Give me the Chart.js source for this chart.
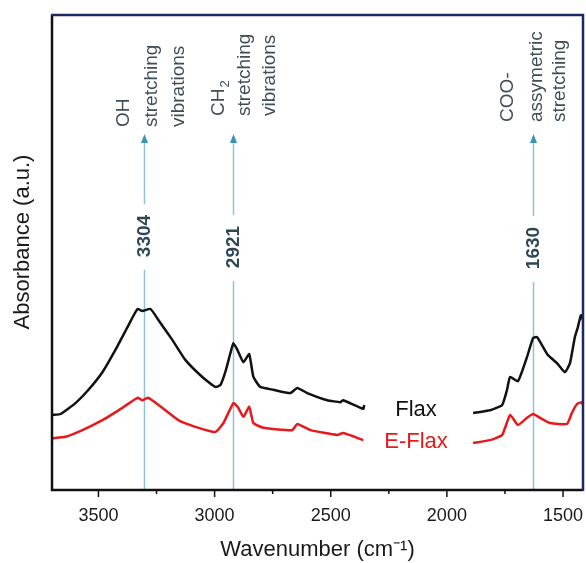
<!DOCTYPE html>
<html><head><meta charset="utf-8">
<script src="https://cdn.jsdelivr.net/npm/chart.js@4.4.0/dist/chart.umd.min.js"></script>
<style>html,body{margin:0;padding:0;background:#fff}#wrap{width:586px;height:563px}</style>
</head><body><div id="wrap"><canvas id="c" width="586" height="563"></canvas></div>
<script>
// ---- data ----
const flaxWavenumber = [3698,3663,3599,3543,3483,3427,3375,3332,3311,3276,3242,3182,3126,3053,2997,2975,2954,2932,2919,2902,2876,2851,2833,2803,2747,2674,2644,2601,2515,2459,2446,2360,2356,2100,1887,1814,1762,1741,1728,1694,1655,1629,1612,1565,1526,1492,1470,1449,1436,1423,1414];
const flaxAbsorbance = [15.8,16.0,18.3,21.1,24.8,29.5,34.3,38.1,37.7,38.1,35.8,31.6,27.4,23.8,21.7,22.1,24.8,28.8,30.9,29.5,26.9,28.6,23.8,21.7,21.1,20.4,21.5,20.4,18.9,18.5,18.9,17.1,17.9,null,16.2,16.8,17.9,21.1,23.8,22.9,28.0,32.0,32.2,28.4,26.7,24.8,26.7,32.2,34.3,36.8,35.8];
const eflaxWavenumber = [3698,3642,3569,3483,3397,3332,3311,3285,3225,3156,3083,2997,2962,2919,2898,2876,2851,2833,2790,2666,2644,2588,2472,2446,2360,2100,1887,1814,1762,1728,1694,1655,1629,1599,1556,1483,1462,1440,1419,1414];
const eflaxAbsorbance = [10.9,11.2,12.6,14.7,17.3,19.4,18.9,19.4,17.3,14.7,13.3,12.2,14.1,18.3,17.3,15.4,17.5,14.1,13.1,12.6,13.9,12.6,11.6,12.0,10.5,null,9.9,10.5,11.6,15.8,13.7,15.2,16.0,15.2,14.1,13.9,16.2,18.1,18.5,17.9];
const seriesNames = ['Flax', 'E-Flax'];
const xTickValues = [3500, 3000, 2500, 2000, 1500];
const xMinorTickValues = [3250, 2750, 2250, 1750];
const peakPositions = [3304, 2921, 1630];
const peakLabels = ['3304', '2921', '1630'];
const peakDescriptions = [['OH', 'stretching', 'vibrations'], ['CH|2', 'stretching', 'vibrations'], ['COO-', 'assymetric', 'stretching']];
const yAxisTitle = 'Absorbance (a.u.)';

const FONT = '"Liberation Sans", Arial, Helvetica, sans-serif';

const decor = {
  id: 'ftirDecor',
  beforeDatasetsDraw(chart) {
    const {ctx, chartArea: a, scales: {x}} = chart;
    ctx.save();
    peakPositions.forEach(p => {
      const px = Math.round(x.getPixelForValue(p)) + 0.5;
      ctx.strokeStyle = '#8ec4d5';
      ctx.lineWidth = 1.5;
      ctx.beginPath(); ctx.moveTo(px, a.bottom); ctx.lineTo(px, a.top + 127); ctx.stroke();
      ctx.fillStyle = '#3a93b6';
      ctx.beginPath(); ctx.moveTo(px, a.top + 119); ctx.lineTo(px - 3.5, a.top + 128); ctx.lineTo(px + 3.5, a.top + 128); ctx.closePath(); ctx.fill();
    });
    ctx.restore();
  },
  afterDatasetsDraw(chart) {
    const {ctx, chartArea: a, scales: {x}} = chart;
    ctx.save();
    const numCenters = [236, 247, 248];
    const descLayout = [{bottom: 127, cols: [-20, 8, 35]}, {bottom: 116, cols: [-14, 12, 37]}, {bottom: 122, cols: [-25, 4, 27]}];
    peakPositions.forEach((p, i) => {
      const px = x.getPixelForValue(p);
      const cy = numCenters[i];
      ctx.fillStyle = '#ffffff';
      ctx.fillRect(px - 13, cy - 32, 26, 66);
      ctx.save();
      ctx.translate(px, cy);
      ctx.rotate(-Math.PI / 2);
      ctx.fillStyle = '#2e4757';
      ctx.font = 'bold 19px ' + FONT;
      ctx.textAlign = 'center'; ctx.textBaseline = 'middle';
      ctx.fillText(peakLabels[i], 0, 1);
      ctx.restore();
      const lay = descLayout[i];
      peakDescriptions[i].forEach((line, j) => {
        ctx.save();
        ctx.translate(px + lay.cols[j], lay.bottom);
        ctx.rotate(-Math.PI / 2);
        ctx.fillStyle = '#3e4e59';
        ctx.textAlign = 'left'; ctx.textBaseline = 'middle';
        ctx.font = '19px ' + FONT;
        if (line.includes('|')) {
          const [main, sub] = line.split('|');
          ctx.fillText(main, 0, 0);
          const w = ctx.measureText(main).width;
          ctx.font = '13px ' + FONT;
          ctx.fillText(sub, w + 1, 6);
        } else {
          ctx.fillText(line, 0, 0);
        }
        ctx.restore();
      });
    });
    // series labels
    ctx.font = '22px ' + FONT;
    ctx.textAlign = 'center'; ctx.textBaseline = 'middle';
    ctx.fillStyle = '#111111';
    ctx.fillText(seriesNames[0], 416, 410);
    ctx.fillStyle = '#e8191c';
    ctx.fillText(seriesNames[1], 416, 442);
    // y axis title
    ctx.save();
    ctx.translate(23, 242);
    ctx.rotate(-Math.PI / 2);
    ctx.fillStyle = '#1a1a1a';
    ctx.font = '22px ' + FONT;
    ctx.fillText(yAxisTitle, 0, 0);
    ctx.restore();
    // frame
    ctx.lineWidth = 2.5;
    ctx.strokeStyle = '#111111';
    ctx.beginPath(); ctx.moveTo(a.left, a.top); ctx.lineTo(a.left, a.bottom); ctx.lineTo(a.right, a.bottom); ctx.stroke();
    ctx.strokeStyle = '#1b2a63';
    ctx.beginPath(); ctx.moveTo(a.left - 1, a.top); ctx.lineTo(a.right, a.top); ctx.lineTo(a.right, a.bottom + 1); ctx.stroke();
    // ticks
    ctx.strokeStyle = '#111111'; ctx.lineWidth = 1.5;
    xTickValues.forEach(v => { const px = x.getPixelForValue(v); ctx.beginPath(); ctx.moveTo(px, a.bottom); ctx.lineTo(px, a.bottom + 7); ctx.stroke(); });
    xMinorTickValues.forEach(v => { const px = x.getPixelForValue(v); ctx.beginPath(); ctx.moveTo(px, a.bottom); ctx.lineTo(px, a.bottom + 4); ctx.stroke(); });
    ctx.restore();
  }
};

const toPoints = (xs, ys) => xs.map((v, i) => ({x: v, y: ys[i]}));

new Chart(document.getElementById('c'), {
  type: 'line',
  data: {
    datasets: [
      {label: seriesNames[0], data: toPoints(flaxWavenumber, flaxAbsorbance), borderColor: '#111111', borderWidth: 2.5, pointRadius: 0, tension: 0.15, spanGaps: false},
      {label: seriesNames[1], data: toPoints(eflaxWavenumber, eflaxAbsorbance), borderColor: '#e8191c', borderWidth: 2.5, pointRadius: 0, tension: 0.15, spanGaps: false}
    ]
  },
  options: {
    responsive: false,
    animation: false,
    devicePixelRatio: 1,
    layout: {autoPadding: false, padding: {top: 15, right: 3, left: 0, bottom: 0}},
    plugins: {legend: {display: false}, tooltip: {enabled: false}},
    scales: {
      x: {
        type: 'linear', reverse: true, min: 1414, max: 3700,
        afterBuildTicks: s => { s.ticks = xTickValues.map(v => ({value: v})); },
        afterFit: s => { s.height = 73; s.paddingLeft = 0; s.paddingRight = 0; },
        grid: {display: false, drawTicks: false},
        border: {display: false},
        ticks: {padding: 15, color: '#1a1a1a', font: {family: FONT, size: 18}, callback: v => String(v)},
        title: {display: true, text: 'Wavenumber (cm⁻¹)', color: '#1a1a1a', font: {family: FONT, size: 22}, padding: {top: 0, bottom: 0}}
      },
      y: {
        min: 0, max: 100,
        afterFit: s => { s.width = 52; s.paddingTop = 0; s.paddingBottom = 0; },
        grid: {display: false, drawTicks: false},
        border: {display: false},
        ticks: {display: false},
        title: {display: false}
      }
    }
  },
  plugins: [decor]
});
</script>
</body></html>
